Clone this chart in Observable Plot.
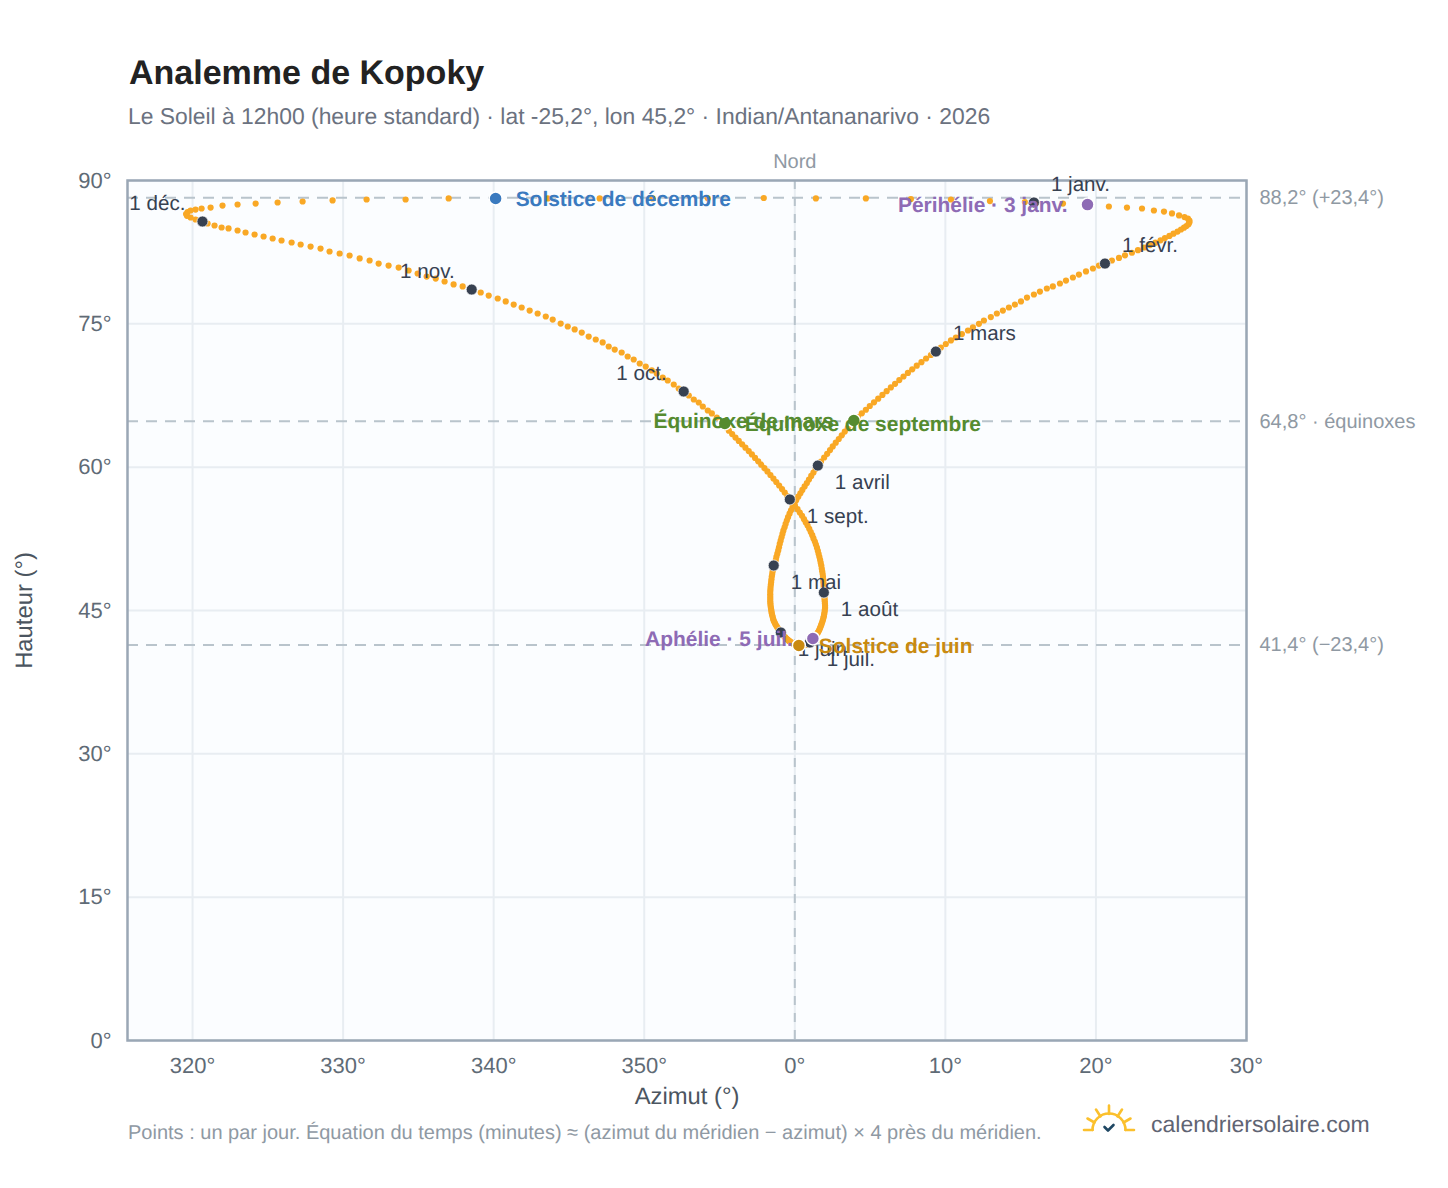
<!DOCTYPE html>
<html lang="fr">
<head>
<meta charset="utf-8">
<script src="https://cdn.jsdelivr.net/npm/d3@7"></script>
<script src="https://cdn.jsdelivr.net/npm/@observablehq/plot@0.6"></script>
<style>
html,body{margin:0;padding:0;background:#fff;width:1448px;height:1188px;overflow:hidden;font-family:"Liberation Sans",Arial,sans-serif;text-rendering:geometricPrecision}
#page{position:relative;width:1448px;height:1188px}
#title{position:absolute;left:129px;top:53px;font-size:34px;font-weight:700;color:#222;line-height:40px;white-space:nowrap}
#sub{position:absolute;left:128px;top:103px;font-size:22.87px;color:#6b7280;line-height:26px;white-space:nowrap}
#chart{position:absolute;left:-1px;top:139.5px}
#chart svg{display:block;text-rendering:geometricPrecision}
#caption{position:absolute;left:128px;top:1122px;font-size:20px;color:#8f99a3;line-height:22px;white-space:nowrap}
#brand{position:absolute;left:1151px;top:1111px;font-size:23px;color:#5f6473;line-height:26px;white-space:nowrap}
#logo{position:absolute;left:1080px;top:1100px}
</style>
</head>
<body>
<div id="page">
<div id="title">Analemme de Kopoky</div>
<div id="sub">Le Soleil à 12h00 (heure standard) · lat -25,2°, lon 45,2° · Indian/Antananarivo · 2026</div>
<div id="chart"></div>
<div id="caption">Points : un par jour. Équation du temps (minutes) ≈ (azimut du méridien − azimut) × 4 près du méridien.</div>
<svg id="logo" width="60" height="40" viewBox="0 0 60 40" fill="none">
<g stroke="#fbc02d" stroke-width="2.6" stroke-linecap="round">
<path d="M4 30H12.5M45.5 30H54"/>
<path d="M12.5 30A16.5 16.5 0 0 1 45.5 30"/>
<path d="M29 5.5V14M16 9.5L20.5 16.5M42 9.5L37.5 16.5M7.5 18.5L14.5 22.5M50.5 18.5L43.500 22.5"/>
</g>
<path d="M24.500 27L28 30.500L33.500 25" stroke="#1f4763" stroke-width="2.600" stroke-linecap="round" stroke-linejoin="round"/>
</svg>
<div id="brand">calendriersolaire.com</div>
</div>
<script>
// Azimut (degrés, signé autour du nord) pour chaque jour de 2026
const azimuts = [
// janvier
15.88,17.81,19.40,20.86,22.06,23.06,23.85,24.52,25.05,25.52,25.88,26.11,26.21,26.21,26.15,26.01,25.85,25.65,25.42,25.15,24.88,24.58,24.29,23.95,23.59,23.19,22.79,22.39,21.93,21.53,21.06,
// février
20.60,20.20,19.80,19.34,18.87,18.47,18.01,17.61,17.14,16.74,16.28,15.88,15.42,15.02,14.62,14.22,13.82,13.42,13.02,12.56,12.23,11.83,11.50,11.10,10.70,10.37,10.03,9.70,
// mars
9.37,9.04,8.72,8.41,8.10,7.80,7.51,7.22,6.94,6.66,6.38,6.10,5.82,5.54,5.26,4.98,4.72,4.45,4.19,3.92,3.72,3.52,3.32,3.12,2.92,2.72,2.52,2.34,2.15,1.95,1.74,
// avril
1.53,1.38,1.24,1.09,0.94,0.80,0.65,0.50,0.37,0.23,0.09,-0.03,-0.15,-0.25,-0.35,-0.45,-0.53,-0.61,-0.68,-0.76,-0.82,-0.88,-0.94,-1.00,-1.05,-1.10,-1.16,-1.22,-1.26,-1.32,
// mai
-1.40,-1.44,-1.47,-1.50,-1.53,-1.55,-1.57,-1.59,-1.61,-1.62,-1.63,-1.63,-1.63,-1.63,-1.63,-1.62,-1.61,-1.59,-1.57,-1.55,-1.53,-1.50,-1.47,-1.44,-1.40,-1.35,-1.30,-1.24,-1.17,-1.09,-1.01,
// juin
-0.93,-0.87,-0.81,-0.76,-0.70,-0.65,-0.60,-0.54,-0.49,-0.44,-0.39,-0.33,-0.28,-0.23,-0.17,-0.12,-0.07,0.00,0.08,0.17,0.27,0.34,0.41,0.49,0.56,0.63,0.70,0.78,0.85,0.92,
// juillet
1.00,1.06,1.12,1.17,1.22,1.28,1.33,1.38,1.44,1.49,1.53,1.58,1.63,1.67,1.71,1.75,1.79,1.83,1.87,1.90,1.93,1.95,1.98,1.99,2.01,2.01,2.00,1.99,1.98,1.97,1.95,
// août
1.93,1.93,1.92,1.91,1.90,1.89,1.87,1.85,1.82,1.79,1.76,1.72,1.68,1.63,1.58,1.53,1.47,1.40,1.33,1.24,1.16,1.06,0.96,0.85,0.73,0.61,0.48,0.33,0.18,0.01,-0.15,
// septembre
-0.33,-0.50,-0.67,-0.85,-1.04,-1.23,-1.42,-1.62,-1.82,-2.02,-2.23,-2.43,-2.64,-2.85,-3.06,-3.28,-3.50,-3.72,-3.94,-4.16,-4.38,-4.60,-4.88,-5.18,-5.51,-5.78,-6.11,-6.38,-6.71,-7.04,
// octobre
-7.38,-7.71,-8.04,-8.44,-8.77,-9.17,-9.50,-9.90,-10.30,-10.70,-11.10,-11.50,-11.96,-12.36,-12.76,-13.22,-13.69,-14.15,-14.62,-15.08,-15.55,-16.08,-16.54,-17.08,-17.61,-18.14,-18.67,-19.20,-19.73,-20.33,-20.86,
// novembre
-21.46,-22.06,-22.66,-23.26,-23.85,-24.45,-25.05,-25.65,-26.31,-26.98,-27.64,-28.24,-28.90,-29.57,-30.23,-30.90,-31.50,-32.16,-32.82,-33.42,-34.09,-34.68,-35.28,-35.88,-36.48,-37.01,-37.61,-38.07,-38.54,-39.00,
// décembre
-39.34,-39.80,-40.13,-40.37,-40.43,-40.33,-40.13,-39.80,-39.40,-38.80,-38.01,-37.01,-35.81,-34.35,-32.69,-30.70,-28.44,-25.85,-22.99,-19.87,-16.41,-12.96,-9.44,-5.78,-2.06,1.40,4.72,7.71,10.37,12.96,15.28
];
// Hauteur (degrés) pour chaque jour de 2026
const hauteurs = [
// janvier
87.70,87.59,87.49,87.28,87.17,87.07,86.86,86.75,86.55,86.34,86.17,86.00,85.81,85.63,85.43,85.24,85.06,84.87,84.66,84.43,84.20,83.97,83.74,83.49,83.24,82.99,82.71,82.44,82.17,81.90,81.63,
// février
81.31,81.10,80.79,80.48,80.16,79.85,79.53,79.22,78.91,78.70,78.38,78.07,77.75,77.34,77.02,76.71,76.39,76.08,75.71,75.35,75.00,74.62,74.30,73.93,73.57,73.26,72.89,72.52,
// mars
72.10,71.74,71.37,70.99,70.62,70.24,69.86,69.49,69.11,68.72,68.34,67.95,67.56,67.17,66.79,66.40,66.01,65.63,65.25,64.88,64.50,64.11,63.72,63.33,62.95,62.56,62.17,61.79,61.40,61.01,60.59,
// avril
60.17,59.81,59.44,59.08,58.71,58.34,57.98,57.62,57.26,56.91,56.55,56.20,55.84,55.49,55.13,54.77,54.42,54.06,53.71,53.35,53.01,52.66,52.31,51.97,51.62,51.29,50.95,50.62,50.29,49.99,
// mai
49.71,49.42,49.12,48.83,48.55,48.26,47.99,47.72,47.46,47.20,46.95,46.70,46.45,46.21,45.98,45.75,45.53,45.31,45.10,44.90,44.70,44.50,44.31,44.12,43.94,43.76,43.60,43.43,43.26,43.09,42.91,
// juin
42.70,42.59,42.49,42.39,42.30,42.21,42.12,42.04,41.96,41.89,41.82,41.76,41.69,41.64,41.59,41.54,41.49,41.45,41.41,41.38,41.35,41.34,41.34,41.35,41.36,41.38,41.41,41.44,41.48,41.55,
// juillet
41.65,41.76,41.86,41.96,42.05,42.13,42.23,42.33,42.45,42.57,42.70,42.83,42.98,43.14,43.29,43.46,43.64,43.83,44.02,44.22,44.41,44.62,44.83,45.05,45.27,45.50,45.73,45.96,46.19,46.42,46.65,
// août
46.88,47.13,47.41,47.68,47.95,48.23,48.52,48.81,49.10,49.39,49.70,50.00,50.31,50.62,50.93,51.25,51.57,51.90,52.22,52.54,52.88,53.21,53.55,53.89,54.22,54.56,54.91,55.25,55.60,55.95,56.29,
// septembre
56.62,56.98,57.35,57.71,58.08,58.45,58.81,59.18,59.55,59.90,60.26,60.61,60.97,61.33,61.68,62.04,62.39,62.75,63.10,63.46,63.82,64.17,64.80,65.20,65.62,65.93,66.35,66.77,67.08,67.50,
// octobre
67.92,68.23,68.65,69.07,69.38,69.80,70.12,70.53,70.85,71.27,71.58,72.00,72.31,72.63,73.05,73.36,73.67,74.09,74.41,74.72,75.03,75.45,75.77,76.08,76.39,76.71,77.02,77.34,77.65,77.96,78.28,
// novembre
78.59,78.91,79.12,79.43,79.74,79.95,80.27,80.58,80.89,81.10,81.31,81.63,81.84,82.15,82.36,82.57,82.88,83.09,83.30,83.51,83.72,83.93,84.14,84.35,84.56,84.77,84.98,85.08,85.29,85.50,
// décembre
85.71,85.92,86.13,86.30,86.49,86.70,86.86,86.96,87.07,87.17,87.38,87.49,87.59,87.70,87.80,87.91,88.01,88.01,88.12,88.12,88.12,88.12,88.12,88.14,88.17,88.12,88.12,88.06,88.01,87.85,87.75
];

// Premiers du mois
const moisNoms = ["1 janv.","1 févr.","1 mars","1 avril","1 mai","1 juin","1 juil.","1 août","1 sept.","1 oct.","1 nov.","1 déc."];
const moisAz = [15.88,20.60,9.37,1.53,-1.40,-0.93,1.00,1.93,-0.33,-7.38,-21.46,-39.34];
const moisHt = [87.70,81.31,72.10,60.17,49.71,42.70,41.65,46.88,56.62,67.92,78.59,85.71];
const moisPlace = ["haut","haut","haut","bas","bas","bas","bas","bas","bas","gauche","gauche","gauche"];

// Événements
const evtNoms = ["Solstice de décembre","Solstice de juin","Équinoxe de mars","Équinoxe de septembre","Périhélie · 3 janv.","Aphélie · 5 juil."];
const evtAz = [-19.87,0.27,3.92,-4.65,19.44,1.20];
const evtHt = [88.12,41.34,64.88,64.57,87.48,42.07];
const evtCouleur = ["#3a7abf","#c98a10","#558b2f","#558b2f","#8e6bb5","#8e6bb5"];
const evtCote = ["start","start","end","start","end","end"];

// Repères horizontaux
const repHt = [88.2,64.8,41.4];
const repNoms = ["88,2° (+23,4°)","64,8° · équinoxes","41,4° (−23,4°)"];

// Graduations
const xTicks = [-40,-30,-20,-10,0,10,20,30];
const yTicks = [0,15,30,45,60,75,90];

const jours = azimuts.map((a,i)=>({az:a,ht:hauteurs[i]}));
const mois = moisNoms.map((n,i)=>({nom:n,az:moisAz[i],ht:moisHt[i],place:moisPlace[i]}));
const evts = evtNoms.map((n,i)=>({nom:n,az:evtAz[i],ht:evtHt[i],c:evtCouleur[i],cote:evtCote[i]}));
const reps = repHt.map((h,i)=>({ht:h,nom:repNoms[i]}));

const frameC="#9aa7b5", gridC="#e8edf2", dashC="#b9c4cc", grayC="#8f99a3", tickC="#5f6b76", labelC="#4b5560", darkC="#374151", sunC="#f9a825";
const monthSize=20.6, evtSize=20.95, noteSize=20;

const plot = Plot.plot({
  width:1448, height:980,
  marginTop:40, marginBottom:80, marginLeft:128, marginRight:201,
  style:{fontFamily:'"Liberation Sans",Arial,sans-serif',background:"transparent",overflow:"visible"},
  x:{domain:[-44.32,30],label:null},
  y:{domain:[0,90],label:null},
  marks:[
    Plot.frame({fill:"#fbfdff",stroke:null}),
    Plot.gridX(xTicks,{stroke:gridC,strokeOpacity:1,strokeWidth:2}),
    Plot.gridY(yTicks,{stroke:gridC,strokeOpacity:1,strokeWidth:2}),
    Plot.ruleX([0],{stroke:dashC,strokeWidth:2,strokeDasharray:"9,8"}),
    Plot.ruleY(repHt,{stroke:dashC,strokeWidth:2,strokeDasharray:"11,8"}),
    Plot.frame({stroke:frameC,strokeWidth:2.5}),
    Plot.axisX({ticks:xTicks,tickSize:0,tickPadding:17,tickFormat:d=>(d<0?d+360:d)+"°",fontSize:22,color:tickC,label:null}),
    Plot.axisY({ticks:yTicks,tickSize:0,tickPadding:16,tickFormat:d=>d+"°",fontSize:22,color:tickC,label:null}),
    Plot.text(["Azimut (°)"],{frameAnchor:"bottom",lineAnchor:"middle",dy:56,fontSize:23.8,fill:labelC}),
    Plot.text(["Hauteur (°)"],{frameAnchor:"left",textAnchor:"middle",dx:-103,rotate:-90,fontSize:23.8,fill:labelC}),
    Plot.dot(jours,{x:"az",y:"ht",r:3.1,fill:sunC}),
    Plot.dot(mois,{x:"az",y:"ht",r:5.5,fill:darkC,stroke:"#fff",strokeWidth:.7}),
    Plot.text(mois.filter(d=>d.place==="haut"),{x:"az",y:"ht",text:"nom",dx:17,dy:-18.5,textAnchor:"start",fontSize:monthSize,fill:darkC}),
    Plot.text(mois.filter(d=>d.place==="bas"),{x:"az",y:"ht",text:"nom",dx:17,dy:17,textAnchor:"start",fontSize:monthSize,fill:darkC}),
    Plot.text(mois.filter(d=>d.place==="gauche"),{x:"az",y:"ht",text:"nom",dx:-17,dy:-18.5,textAnchor:"end",fontSize:monthSize,fill:darkC}),
    Plot.dot(evts,{x:"az",y:"ht",r:6.5,fill:"c",stroke:"#fff",strokeWidth:1.5}),
    Plot.text(evts.filter(d=>d.cote==="start"),{x:"az",y:"ht",text:"nom",dx:20,dy:1,textAnchor:"start",fontSize:evtSize,fontWeight:700,fill:"c"}),
    Plot.text(evts.filter(d=>d.cote==="end"),{x:"az",y:"ht",text:"nom",dx:-20,dy:1,textAnchor:"end",fontSize:evtSize,fontWeight:700,fill:"c"}),
    Plot.text(["Nord"],{x:[0],y:[90],dy:-19,fontSize:noteSize,fill:grayC}),
    Plot.text(reps,{x:()=>30,y:"ht",text:"nom",dx:13,textAnchor:"start",fontSize:noteSize,fill:grayC})
  ]
});
document.getElementById("chart").appendChild(plot);
</script>
</body>
</html>
